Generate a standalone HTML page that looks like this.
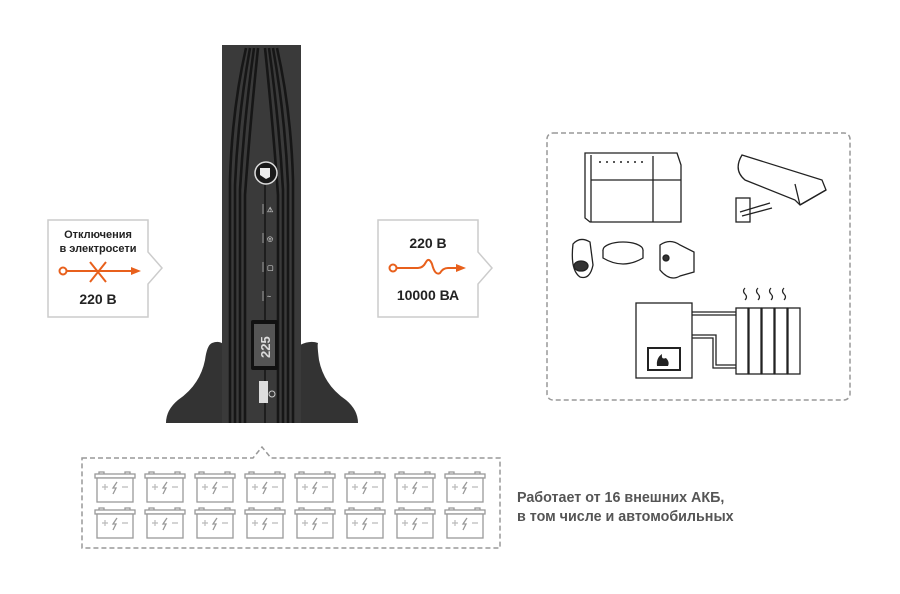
<!DOCTYPE html>
<html><head><meta charset="utf-8"><style>
html,body{margin:0;padding:0;background:#fff;}
svg{display:block}
text{font-family:"Liberation Sans",sans-serif;font-weight:bold;}
</style></head><body>
<svg width="900" height="594" viewBox="0 0 900 594" xmlns="http://www.w3.org/2000/svg">
<defs>
<g id="bat">
 <rect x="2" y="4" width="40" height="4" fill="#fff" stroke="#999" stroke-width="1.3"/>
 <path d="M6 4 v-2 h5 v2 M32 4 v-2 h5 v2" fill="none" stroke="#999" stroke-width="1.3"/>
 <rect x="4" y="8" width="36" height="24" fill="#fff" stroke="#999" stroke-width="1.3"/>
 <path d="M9 17 h6 M12 14 v6 M29 17 h6" stroke="#bbb" stroke-width="1.2"/>
 <path d="M24 12 l-4 6 h3 l-3 6" fill="none" stroke="#999" stroke-width="1.3"/>
</g>
</defs>

<!-- UPS stand -->
<path d="M212 343 Q220 340 224 345 L224 423 L166 423 Q166 410 178 400 Q200 385 205 360 Q207 345 212 343 Z" fill="#333"/>
<path d="M318 343 Q310 340 300 345 L300 423 L358 423 Q358 410 346 400 Q324 385 319 360 Q317 345 318 343 Z" fill="#333"/>
<!-- UPS body -->
<rect x="222" y="45" width="79" height="378" fill="#3a3a3a"/>
<g fill="none" stroke="#161616" stroke-width="2.6">
 <path d="M230 423 V180 Q232 110 246 48"/>
 <path d="M235 423 V185 Q238 115 250 48"/>
 <path d="M240 423 V190 Q244 120 254 48"/>
 <path d="M245 423 V195 Q250 125 258 48"/>
 <path d="M293 423 V180 Q291 110 277 48"/>
 <path d="M288 423 V185 Q285 115 273 48"/>
 <path d="M283 423 V190 Q279 120 269 48"/>
 <path d="M278 423 V195 Q273 125 265 48"/>
</g>
<line x1="265" y1="185" x2="265" y2="423" stroke="#151515" stroke-width="1.5"/>
<circle cx="266" cy="173" r="11" fill="#1a1a1a" stroke="#ddd" stroke-width="1.5"/>
<path d="M260 168 h10 v9 l-4 2 l-6 -4 z" fill="#eee"/>
<g stroke="#999" stroke-width="1"><line x1="263" y1="204" x2="263" y2="214"/><line x1="263" y1="233" x2="263" y2="243"/><line x1="263" y1="262" x2="263" y2="272"/><line x1="263" y1="291" x2="263" y2="301"/></g>
<g fill="#bbb" font-size="7"><text x="267" y="212">⚠</text><text x="267" y="241">◎</text><text x="267" y="270">▢</text><text x="267" y="299">~</text></g>
<rect x="251" y="320" width="27" height="50" rx="2" fill="#111"/>
<rect x="254" y="324" width="21" height="42" fill="#555"/>
<text x="0" y="0" transform="translate(270,358) rotate(-90)" font-size="13" fill="#ddd">225</text>
<rect x="259" y="381" width="9" height="22" fill="#ddd"/>
<circle cx="272" cy="394" r="3" fill="none" stroke="#ccc" stroke-width="1"/>

<!-- left box -->
<path d="M48 220 H148 V252 L162 268 L148 284 V317 H48 Z" fill="#fff" stroke="#ccc" stroke-width="1.5"/>
<text x="98" y="238" font-size="11" fill="#222" text-anchor="middle">Отключения</text>
<text x="98" y="252" font-size="11" fill="#222" text-anchor="middle">в электросети</text>
<g stroke="#e8601c" stroke-width="2" fill="none">
 <circle cx="63" cy="271" r="3.5"/><line x1="67" y1="271" x2="132" y2="271"/>
 <path d="M90 262 L106 282 M106 262 L90 282"/>
</g>
<path d="M131 267 L141 271 L131 275 Z" fill="#e8601c"/>
<text x="98" y="304" font-size="14" fill="#222" text-anchor="middle">220 В</text>

<!-- right box -->
<path d="M378 220 H478 V252 L492 268 L478 284 V317 H378 Z" fill="#fff" stroke="#ccc" stroke-width="1.5"/>
<text x="428" y="248" font-size="14" fill="#222" text-anchor="middle">220 В</text>
<g stroke="#e8601c" stroke-width="2" fill="none">
 <circle cx="393" cy="268" r="3.5"/>
 <path d="M397 268 H418 Q423 268 426 262 Q429 257 432 264 Q435 276 440 273 Q443 268 448 268 H458"/>
</g>
<path d="M456 264 L466 268 L456 272 Z" fill="#e8601c"/>
<text x="428" y="300" font-size="14" fill="#222" text-anchor="middle">10000 ВА</text>

<!-- devices box -->
<rect x="547" y="133" width="303" height="267" rx="6" fill="none" stroke="#999" stroke-width="1.5" stroke-dasharray="5,3"/>
<g fill="#fff" stroke="#222" stroke-width="1.3">
 <path d="M585 153 H677 L681 165 V222 H590 L585 218 Z"/>
 <line x1="591" y1="155" x2="591" y2="222"/>
 <line x1="591" y1="180" x2="681" y2="180"/>
 <line x1="653" y1="156" x2="653" y2="222"/>
 <!-- camera -->
 <rect x="736" y="198" width="14" height="24"/>
 <path d="M740 212 L770 203 M742 216 L772 208"/>
 <path d="M742 155 L822 180 L826 190 L800 205 L795 200 L745 180 Q733 170 742 155 Z"/>
 <path d="M800 205 L826 190 M795 184 L800 205"/>
 <!-- small sensors -->
 <path d="M573 244 Q580 236 590 242 L593 265 Q590 280 580 277 Q570 270 573 244 Z"/>
 <ellipse cx="581" cy="266" rx="7" ry="5" fill="#333"/>
 <ellipse cx="623" cy="250" rx="20" ry="8"/>
 <path d="M603 250 V258 Q623 270 643 258 V250"/>
 <path d="M660 245 Q670 238 680 245 L694 252 V272 L680 276 Q670 282 660 270 Z"/>
 <circle cx="666" cy="258" r="3" fill="#333"/>
 <!-- boiler -->
 <rect x="636" y="303" width="56" height="75"/>
 <rect x="648" y="348" width="32" height="22" stroke-width="2"/>
 <path d="M692 312 H736 M692 315 H736 M692 335 H716 V365 H736 M692 338 H713 V368 H736"/>
 <rect x="736" y="308" width="12" height="66"/><rect x="749" y="308" width="12" height="66"/><rect x="762" y="308" width="12" height="66"/><rect x="775" y="308" width="12" height="66"/><rect x="788" y="308" width="12" height="66"/>
</g>
<path d="M657 366 Q656 358 662 354 Q661 360 666 358 Q670 362 668 366 Z" fill="#222"/>
<g fill="#222"><circle cx="600" cy="162" r="1"/><circle cx="607" cy="162" r="1"/><circle cx="614" cy="162" r="1"/><circle cx="621" cy="162" r="1"/><circle cx="628" cy="162" r="1"/><circle cx="635" cy="162" r="1"/><circle cx="642" cy="162" r="1"/></g>
<g fill="none" stroke="#222" stroke-width="1.2">
 <path d="M745 288 q-3 3 0 6 q3 3 0 6"/><path d="M758 288 q-3 3 0 6 q3 3 0 6"/><path d="M771 288 q-3 3 0 6 q3 3 0 6"/><path d="M784 288 q-3 3 0 6 q3 3 0 6"/>
</g>

<!-- battery box -->
<path d="M82 458 H253 L262 447 L271 458 H500 V548 H82 Z" fill="none" stroke="#999" stroke-width="1.5" stroke-dasharray="5,3"/>
<g>
 <use href="#bat" x="93" y="470"/><use href="#bat" x="143" y="470"/><use href="#bat" x="193" y="470"/><use href="#bat" x="243" y="470"/>
 <use href="#bat" x="293" y="470"/><use href="#bat" x="343" y="470"/><use href="#bat" x="393" y="470"/><use href="#bat" x="443" y="470"/>
 <use href="#bat" x="93" y="506"/><use href="#bat" x="143" y="506"/><use href="#bat" x="193" y="506"/><use href="#bat" x="243" y="506"/>
 <use href="#bat" x="293" y="506"/><use href="#bat" x="343" y="506"/><use href="#bat" x="393" y="506"/><use href="#bat" x="443" y="506"/>
</g>
<text x="517" y="502" font-size="14.3" fill="#555">Работает от 16 внешних АКБ,</text>
<text x="517" y="521" font-size="14.3" fill="#555">в том числе и автомобильных</text>
</svg>
</body></html>
